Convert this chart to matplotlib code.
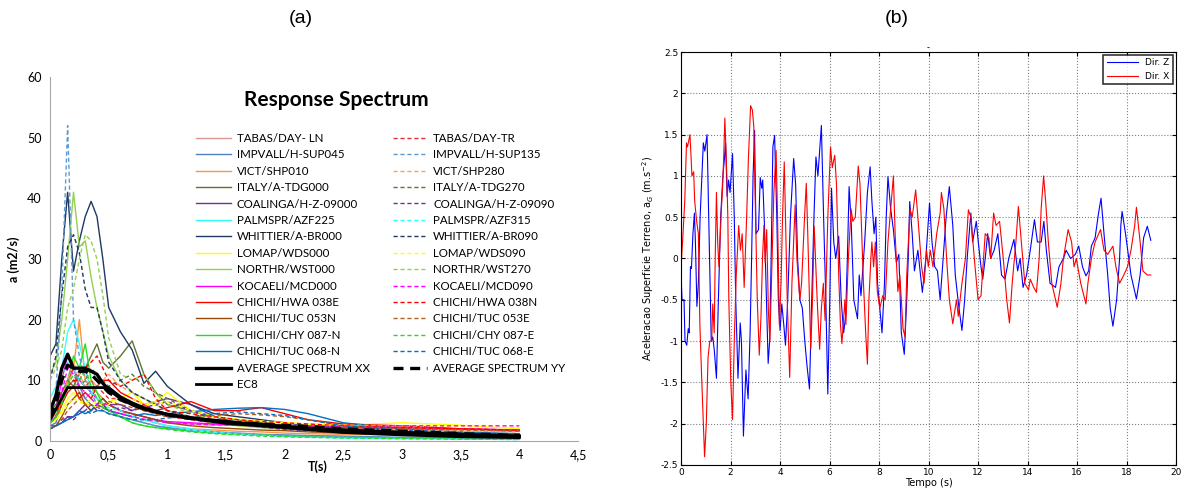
import numpy as np
import matplotlib
matplotlib.use('Agg')
import matplotlib.pyplot as plt

# ---------------- (a) response spectra ----------------
periods = [0, 0.05, 0.1, 0.15, 0.2, 0.25, 0.3, 0.35, 0.4, 0.45, 0.5, 0.6, 0.7,
           0.8, 0.9, 1.0, 1.2, 1.4, 1.6, 1.8, 2.0, 2.2, 2.5, 3.0, 3.5, 4.0]

tabas_ln = [3, 4, 7, 9, 10, 8, 7, 8, 7, 6, 6, 5, 4.5, 4, 3.5, 3, 2.8, 2.6, 2.6, 2.5, 2.4, 2.3, 2.2, 2.5, 2.0, 1.6]
tabas_tr = [3, 5, 8, 10, 12, 10, 9, 10, 9, 8, 7, 7, 6, 5, 4.5, 4, 3.5, 3, 2.8, 2.6, 2.4, 2.3, 2.2, 2.0, 1.9, 1.8]
impvall_045 = [2.5, 3, 6, 10, 12, 9, 7, 6, 5, 5, 4.5, 4, 3.5, 3, 2.5, 2.2, 1.8, 1.5, 1.3, 1.1, 1.0, 0.9, 0.8, 0.6, 0.5, 0.4]
impvall_135 = [2.5, 8, 25, 52, 20, 14, 10, 8, 6, 5, 4.5, 4, 3.5, 3, 2.5, 2.2, 1.8, 1.5, 1.2, 1.0, 0.9, 0.8, 0.7, 0.5, 0.4, 0.35]
vict_010 = [3, 4, 6, 9, 12, 20, 10, 9, 8, 7, 6, 5, 4, 3.5, 3, 2.5, 2, 1.8, 1.6, 1.5, 1.3, 1.2, 1.1, 1.0, 0.9, 0.8]
vict_280 = [3, 4, 7, 10, 13, 11, 9, 10, 9, 10, 11, 9, 8, 7, 6, 5, 4, 3.5, 3, 2.6, 2.4, 2.2, 2.0, 1.8, 1.6, 1.5]
italy_000 = [5, 6, 8, 10, 9, 11, 12, 14, 16, 13, 12, 14, 16.5, 11, 8, 6, 5, 4, 3.5, 3, 2.5, 2.2, 1.8, 1.4, 1.1, 0.9]
italy_270 = [4, 5, 7, 9, 10, 9, 10, 12, 11, 10, 9, 10, 11, 9, 8, 7, 5, 4, 3.5, 3, 2.6, 2.3, 2.0, 1.6, 1.3, 1.1]
coalinga_000 = [2, 2.5, 3, 4, 4, 5, 6, 5, 6, 7, 6, 6, 5, 6, 6.5, 7, 6, 4, 3, 2.5, 2, 1.8, 1.5, 1.2, 1.0, 0.8]
coalinga_090 = [2, 2.5, 3.5, 4, 3.5, 4.5, 5, 6, 5, 6, 5, 5.5, 5, 5.5, 6, 6.5, 5, 3.5, 2.8, 2.3, 1.9, 1.7, 1.4, 1.1, 0.9, 0.7]
palmspr_225 = [7, 9, 12, 18, 20, 16, 12, 8, 7, 6, 5, 4.5, 4, 3.5, 3, 2.5, 2, 1.5, 1.2, 1.0, 0.8, 0.7, 0.5, 0.4, 0.3, 0.25]
palmspr_315 = [5, 7, 10, 13, 12, 10, 9, 8, 7, 6, 5.5, 5, 4, 3.5, 3, 2.5, 1.8, 1.4, 1.1, 0.9, 0.7, 0.6, 0.5, 0.35, 0.3, 0.25]
whittier_000 = [14, 16, 30, 41, 28, 33, 37, 39.5, 37, 30, 22, 18, 15, 9.5, 11.5, 9, 6, 4.5, 4, 3.5, 3, 2.5, 2.2, 1.6, 1.2, 1.0]
whittier_090 = [10, 14, 24, 32, 34, 31, 25, 22, 22, 18, 13, 10, 8, 7, 6, 5, 4, 3.2, 2.8, 2.5, 2.2, 2.0, 1.8, 1.4, 1.1, 0.9]
lomap_000 = [3, 3.5, 5, 7, 8, 7, 6, 7, 6, 6, 6.5, 7, 8, 6, 6.5, 8, 5, 4, 3.5, 3.2, 3, 2.8, 2.6, 3.0, 2.6, 2.0]
lomap_090 = [3, 3.5, 4.5, 6, 7, 6.5, 6, 6, 5.5, 5.5, 6, 6.5, 7, 6, 6, 6.5, 5, 4, 3.6, 3.3, 3.0, 2.8, 2.6, 2.5, 2.4, 2.2]
northr_000 = [11, 13, 20, 30, 41, 32, 33, 27, 22, 18, 14, 10, 8, 7, 6, 5, 4, 3, 2.5, 2.2, 2.0, 1.8, 1.5, 1.2, 1.0, 0.8]
northr_270 = [10, 12, 15, 22, 25, 30, 34, 33, 30, 24, 17, 11, 10, 11, 8, 6, 4.5, 3.5, 3, 2.5, 2.2, 2, 1.7, 1.3, 1.0, 0.8]
kocaeli_000 = [3, 5, 10, 14, 12, 10, 9, 8, 7, 6, 6, 5, 4.5, 4, 3.5, 3.2, 3, 2.8, 2.6, 2.5, 2.4, 2.3, 2.2, 2.2, 2.0, 1.8]
kocaeli_090 = [3, 4, 8, 12, 11, 9, 8, 7, 6, 5.5, 5, 4.5, 4, 3.6, 3.3, 3.0, 2.8, 2.7, 2.6, 2.6, 2.6, 2.5, 2.4, 2.5, 2.5, 2.5]
hwa_038e = [3, 4, 6, 8, 9, 7, 8, 7, 9, 10, 10, 8, 7, 6, 5, 5.5, 6.5, 5, 5, 5.5, 4.5, 3.5, 2.8, 2.5, 2, 1.8]
hwa_038n = [3, 4, 7, 9, 10, 10, 12, 13, 14, 12, 10, 9, 10, 11, 7, 5, 4.5, 4, 3.5, 3.2, 3, 2.8, 2.5, 2.2, 2.0, 1.8]
tuc_053n = [2, 2.5, 4, 6, 7, 8, 6, 5, 6, 7, 6, 5, 4.5, 4, 3.5, 3, 2.5, 2.2, 2, 1.8, 1.7, 1.5, 1.3, 1.1, 1.0, 0.9]
tuc_053e = [2, 2.5, 3.5, 5, 6, 7, 6, 6, 5.5, 6, 6.5, 6, 5.5, 5, 4.5, 4, 4, 4.2, 4.5, 4.3, 4, 3.5, 2.5, 2.0, 1.8, 1.6]
chy_087n = [3, 4, 7, 10, 14, 12, 16, 10, 8, 6, 5, 4, 3, 2.5, 2.2, 2, 1.6, 1.3, 1.1, 1.0, 0.8, 0.7, 0.6, 0.5, 0.4, 0.3]
chy_087e = [3, 4, 6, 9, 11, 10, 12, 9, 7, 5.5, 5, 4, 3, 2.5, 2.2, 1.9, 1.5, 1.2, 1.0, 0.8, 0.7, 0.6, 0.5, 0.4, 0.3, 0.25]
tuc_068n = [2.5, 2.5, 3, 3.5, 4, 5, 4.5, 5, 6, 5.5, 5, 4.5, 4, 4.5, 4.2, 4.5, 4.8, 5.2, 5.4, 5.5, 5.2, 4.5, 3, 2, 1.5, 1.2]
tuc_068e = [2, 2.5, 3, 3.5, 4, 4.5, 5, 4.5, 5, 5, 4.5, 4, 3.5, 3.5, 3.5, 3.8, 4.0, 4.5, 4.8, 4.5, 4.2, 3.5, 2.5, 1.8, 1.4, 1.1]
avg_xx = [5, 7.5, 12, 14.3, 12, 12, 12, 11.5, 11, 9.5, 8.5, 7, 6, 5.3, 4.8, 4.4, 3.8, 3.4, 3.0, 2.7, 2.4, 2.1, 1.8, 1.4, 1.1, 0.8]
avg_yy = [4, 6, 10, 12.5, 12, 11.5, 11.5, 11, 10, 9, 8, 6.8, 6, 5.3, 4.8, 4.3, 3.7, 3.3, 3.0, 2.8, 2.6, 2.4, 2.0, 1.6, 1.2, 0.9]

ec8_t = [0, 0.15, 0.5, 0.6, 0.7, 0.8, 1.0, 1.2, 1.5, 2.0, 2.5, 3.0, 3.5, 4.0]
ec8_a = [3.5, 8.8, 8.8, 7.3, 6.3, 5.5, 4.4, 3.7, 2.9, 2.2, 1.4, 1.0, 0.7, 0.55]

# (label, values, colour) -- left legend column solid, right column dashed
solid_records = [
    ('TABAS/DAY- LN', tabas_ln, '#D99694'),
    ('IMPVALL/H-SUP045', impvall_045, '#4F81BD'),
    ('VICT/SHP010', vict_010, '#F79646'),
    ('ITALY/A-TDG000', italy_000, '#5E7530'),
    ('COALINGA/H-Z-09000', coalinga_000, '#7030A0'),
    ('PALMSPR/AZF225', palmspr_225, '#33FFFF'),
    ('WHITTIER/A-BR000', whittier_000, '#1F3864'),
    ('LOMAP/WDS000', lomap_000, '#FFFF00'),
    ('NORTHR/WST000', northr_000, '#92D050'),
    ('KOCAELI/MCD000', kocaeli_000, '#FF00FF'),
    ('CHICHI/HWA 038E', hwa_038e, '#FF0000'),
    ('CHICHI/TUC 053N', tuc_053n, '#984807'),
    ('CHICHI/CHY 087-N', chy_087n, '#22DD22'),
    ('CHICHI/TUC 068-N', tuc_068n, '#0070C0'),
]
dashed_records = [
    ('TABAS/DAY-TR', tabas_tr, '#E0303A'),
    ('IMPVALL/H-SUP135', impvall_135, '#5B9BD5'),
    ('VICT/SHP280', vict_280, '#FAA060'),
    ('ITALY/A-TDG270', italy_270, '#5E7530'),
    ('COALINGA/H-Z-09090', coalinga_090, '#7030A0'),
    ('PALMSPR/AZF315', palmspr_315, '#33FFFF'),
    ('WHITTIER/A-BR090', whittier_090, '#1F3864'),
    ('LOMAP/WDS090', lomap_090, '#FFFF00'),
    ('NORTHR/WST270', northr_270, '#92D050'),
    ('KOCAELI/MCD090', kocaeli_090, '#FF00FF'),
    ('CHICHI/HWA 038N', hwa_038n, '#FF0000'),
    ('CHICHI/TUC 053E', tuc_053e, '#B0601A'),
    ('CHICHI/CHY 087-E', chy_087e, '#22DD22'),
    ('CHICHI/TUC 068-E', tuc_068e, '#0070C0'),
]

# ---------------- (b) ground acceleration ----------------
tz = [0.00, 0.04, 0.12, 0.16, 0.23, 0.29, 0.33, 0.38, 0.42, 0.48, 0.54, 0.58, 0.64, 0.70, 0.77,
      0.84, 0.90, 0.96, 1.05, 1.11, 1.16, 1.22, 1.28, 1.34, 1.43, 1.50, 1.60, 1.69, 1.75, 1.80,
      1.86, 1.92, 1.98, 2.08, 2.15, 2.21, 2.30, 2.39, 2.44, 2.52, 2.62, 2.71, 2.79, 2.85, 2.91,
      2.97, 3.03, 3.13, 3.20, 3.26, 3.30, 3.37, 3.45, 3.52, 3.58, 3.64, 3.71, 3.78, 3.87, 3.93,
      4.00, 4.07, 4.15, 4.22, 4.31, 4.42, 4.55, 4.63, 4.71, 4.80, 4.90, 5.00, 5.09, 5.19, 5.28,
      5.37, 5.45, 5.53, 5.60, 5.67, 5.76, 5.85, 5.93, 6.01, 6.08, 6.17, 6.25, 6.37, 6.47, 6.57,
      6.65, 6.72, 6.79, 6.88, 6.98, 7.13, 7.20, 7.27, 7.42, 7.53, 7.64, 7.71, 7.80, 7.87, 7.94,
      8.03, 8.12, 8.22, 8.29, 8.36, 8.47, 8.58, 8.70, 8.80, 8.90, 9.02, 9.12, 9.18, 9.24, 9.34,
      9.43, 9.57, 9.75, 9.89, 10.04, 10.14, 10.25, 10.36, 10.47, 10.59, 10.71, 10.84, 10.98, 11.08, 11.23,
      11.35, 11.46, 11.56, 11.64, 11.71, 11.78, 11.93, 12.01, 12.12, 12.19, 12.29, 12.39, 12.51, 12.65, 12.80,
      12.95, 13.09, 13.24, 13.45, 13.60, 13.70, 13.82, 13.96, 14.11, 14.28, 14.40, 14.55, 14.66, 14.76, 14.91,
      15.13, 15.27, 15.45, 15.56, 15.74, 15.93, 16.07, 16.22, 16.36, 16.47, 16.58, 16.73, 16.87, 16.97, 17.09,
      17.24, 17.34, 17.45, 17.60, 17.72, 17.77, 17.82, 17.96, 18.18, 18.40, 18.55, 18.69, 18.84, 18.98]
dir_z = [-0.2, -0.5, -0.5, -1.0, -1.05, -0.85, -0.9, -0.1, -0.12, 0.3, 0.55, 0.2, -0.58, -0.3, 0.5,
         1.0, 1.4, 1.3, 1.5, 0.6, -0.2, -1.0, -0.95, -1.1, -1.45, -0.6, 0.5, 1.0, 1.2, 1.4,
         0.75, 0.95, 0.8, 1.27, 0.5, -0.5, -1.45, -0.78, -1.0, -2.15, -1.35, -1.7, -0.9, 0.0, 1.0,
         1.55, 0.3, 0.35, 0.98, 0.85, 0.95, 0.4, -0.5, -1.27, -1.0, 0.0, 1.35, 1.49, 0.5, -0.5,
         -0.87, -0.55, -0.8, -1.05, -0.5, 0.5, 1.21, 0.9, 0.0, -0.5, -0.6, -1.0, -1.3, -1.58, -0.5,
         0.5, 1.23, 1.0, 1.3, 1.61, 0.5, -0.5, -1.64, -0.5, 0.85, 0.2, 0.0, 0.27, -0.5, -0.9,
         -0.7, 0.0, 0.87, 0.4, -0.5, -0.73, -0.2, -0.45, 0.2, 0.8, 1.11, 0.7, 0.3, 0.5, -0.3,
         -0.6, -0.9, -0.3, 0.5, 0.99, 0.6, 0.35, -0.05, 0.05, -0.9, -1.16, -0.5, 0.0, 0.69, 0.3,
         -0.15, 0.1, -0.41, 0.0, 0.67, 0.2, -0.1, -0.15, -0.5, 0.0, 0.5, 0.87, 0.4, -0.2, -0.6,
         -0.87, -0.5, 0.0, 0.3, 0.55, 0.2, 0.45, 0.2, -0.1, -0.25, 0.0, 0.3, 0.0, 0.1, 0.3,
         -0.2, -0.25, 0.0, 0.23, -0.15, 0.0, -0.35, -0.2, 0.1, 0.47, 0.2, 0.2, 0.45, 0.1, -0.3,
         -0.35, -0.1, 0.0, 0.1, 0.0, 0.05, 0.15, -0.1, -0.21, -0.15, 0.15, 0.25, 0.55, 0.73, 0.3,
         -0.2, -0.6, -0.82, -0.5, 0.0, 0.4, 0.57, 0.3, -0.2, -0.49, -0.2, 0.25, 0.39, 0.22]

tx = [0.00, 0.07, 0.15, 0.22, 0.26, 0.36, 0.44, 0.51, 0.55, 0.63, 0.70, 0.76, 0.84, 0.95, 1.02,
      1.09, 1.16, 1.24, 1.28, 1.34, 1.38, 1.43, 1.48, 1.53, 1.63, 1.67, 1.72, 1.77, 1.85, 1.89,
      1.93, 2.01, 2.08, 2.15, 2.23, 2.33, 2.40, 2.47, 2.55, 2.65, 2.72, 2.81, 2.88, 2.94, 3.01,
      3.08, 3.16, 3.23, 3.29, 3.35, 3.40, 3.46, 3.53, 3.59, 3.68, 3.75, 3.84, 3.90, 3.97, 4.04,
      4.10, 4.17, 4.22, 4.29, 4.39, 4.48, 4.61, 4.68, 4.80, 4.87, 4.99, 5.06, 5.12, 5.24, 5.31,
      5.38, 5.50, 5.60, 5.67, 5.75, 5.82, 5.93, 6.04, 6.11, 6.21, 6.28, 6.37, 6.44, 6.50, 6.62,
      6.66, 6.76, 6.87, 6.94, 7.04, 7.16, 7.23, 7.30, 7.37, 7.46, 7.53, 7.59, 7.67, 7.71, 7.78,
      7.85, 7.93, 8.03, 8.15, 8.25, 8.36, 8.47, 8.58, 8.65, 8.76, 8.84, 8.97, 9.05, 9.12, 9.25,
      9.34, 9.48, 9.57, 9.72, 9.82, 9.92, 9.99, 10.07, 10.18, 10.33, 10.47, 10.52, 10.62, 10.73, 10.84,
      10.98, 11.13, 11.20, 11.35, 11.49, 11.61, 11.71, 11.85, 12.00, 12.12, 12.22, 12.29, 12.44, 12.51, 12.63,
      12.73, 12.87, 13.02, 13.16, 13.27, 13.38, 13.53, 13.63, 13.75, 13.89, 14.04, 14.11, 14.25, 14.36, 14.47,
      14.55, 14.65, 14.73, 14.84, 14.98, 15.20, 15.35, 15.45, 15.64, 15.78, 15.88, 15.97, 16.15, 16.36, 16.44,
      16.58, 16.73, 16.95, 17.09, 17.24, 17.45, 17.57, 17.72, 17.89, 18.04, 18.18, 18.33, 18.40, 18.55, 18.66,
      18.84, 18.98]
dir_x = [-0.1, 0.25, 0.7, 1.4, 1.35, 1.5, 1.0, 1.05, 0.7, 0.45, 0.3, -0.8, -1.5, -2.4, -2.0,
         -1.2, -1.0, -1.0, -0.55, -0.9, 0.0, 0.8, 0.2, -0.1, 0.6, 0.8, 1.2, 1.7, 1.0, 0.5,
         -0.5, -1.5, -1.95, -1.0, -0.2, 0.4, 0.1, 0.3, -0.35, 0.5, 1.2, 1.85, 1.8, 1.6, 0.5,
         -0.5, -1.17, -0.7, 0.0, 0.4, -0.05, 0.35, -0.65, -1.0, 0.0, 0.8, 1.31, 0.5, -0.8, -0.3,
         0.5, 1.17, 0.5, -0.5, -1.44, -0.3, 0.65, 0.0, -0.5, -0.3, 0.5, 0.91, 0.3, -1.1, -0.5,
         0.39, -0.5, -1.1, -0.6, -0.3, -0.75, 0.5, 1.35, 1.1, 1.25, 0.9, -0.2, -0.8, -1.03, -0.5,
         -0.8, 0.0, 0.6, 0.45, 0.5, 1.12, 0.9, 0.3, -0.3, -0.9, -1.28, -0.5, 0.0, 0.2, -0.1,
         0.2, -0.4, -0.6, -0.45, -0.5, 0.2, 0.6, 1.0, 0.3, -0.4, -0.2, -0.85, -0.95, -0.2, 0.6,
         0.5, 0.83, 0.5, -0.1, -0.3, 0.1, -0.1, 0.1, -0.1, 0.3, 0.55, 0.8, 0.6, 0.0, -0.5,
         -0.79, -0.5, -0.7, -0.3, 0.0, 0.59, 0.5, 0.0, -0.5, -0.45, 0.0, 0.3, 0.25, 0.0, 0.55,
         0.4, 0.45, 0.0, -0.5, -0.78, -0.3, 0.2, 0.63, 0.2, -0.3, -0.38, -0.25, -0.35, -0.41, 0.0,
         0.6, 1.0, 0.7, 0.2, -0.3, -0.59, -0.3, 0.0, 0.35, 0.2, -0.1, 0.0, -0.3, -0.55, -0.3,
         0.0, 0.2, 0.35, 0.1, 0.05, 0.15, -0.1, -0.3, -0.2, -0.1, 0.1, 0.4, 0.62, 0.2, -0.15,
         -0.2, -0.2]

dash = (0, (3, 2))

fig = plt.figure(figsize=(11.83, 4.92), dpi=100)

# ---------- panel (a) ----------
axa = fig.add_axes([0.0423, 0.1037, 0.4463, 0.7398])
handles_left, handles_right = [], []
for label, vals, col in solid_records:
    h, = axa.plot(periods, vals, color=col, lw=1.0, label=label)
    handles_left.append(h)
for label, vals, col in dashed_records:
    h, = axa.plot(periods, vals, color=col, lw=1.0, ls=dash, label=label)
    handles_right.append(h)
h_xx, = axa.plot(periods, avg_xx, color='black', lw=2.4, label='AVERAGE SPECTRUM XX')
h_yy, = axa.plot(periods, avg_yy, color='black', lw=2.4, ls=(0, (3, 2)), label='AVERAGE SPECTRUM YY')
h_ec8, = axa.plot(ec8_t, ec8_a, color='black', lw=2.0, label='EC8')
handles_left += [h_xx, h_ec8]
handles_right += [h_yy]

axa.set_xlim(0, 4.5)
axa.set_ylim(0, 60)
axa.set_xticks(np.arange(0, 4.51, 0.5))
axa.set_xticklabels(['0', '0,5', '1', '1,5', '2', '2,5', '3', '3,5', '4', '4,5'])
axa.set_yticks(range(0, 61, 10))
for s in ['top', 'right']:
    axa.spines[s].set_visible(False)
for s in ['left', 'bottom']:
    axa.spines[s].set_color('#A6A6A6')
axa.tick_params(length=0, labelsize=9, pad=6)
for lab in axa.get_xticklabels() + axa.get_yticklabels():
    lab.set_family('Lato')
axa.set_ylabel('a (m2/s)', fontsize=9, fontweight='bold', family='Lato', labelpad=5)
axa.text(2.28, -3.2, 'T(s)', fontsize=9, fontweight='bold', family='Lato',
         ha='center', va='top')
fig.text(0.284, 0.797, 'Response Spectrum', fontsize=15, fontweight='bold',
         family='Lato', ha='center', va='center')

axa.legend(handles_left + handles_right,
           [h.get_label() for h in handles_left + handles_right],
           ncol=2, loc='upper left', bbox_to_anchor=(0.166, 0.73),
           bbox_transform=fig.transFigure, frameon=False,
           prop={'family': 'Lato', 'size': 8.3}, handlelength=3.0,
           handletextpad=0.5, columnspacing=2.0, labelspacing=0.47,
           borderpad=0, borderaxespad=0)

fig.text(0.2545, 0.963, '(a)', fontsize=14, family='Liberation Sans', ha='center', va='center')

# ---------- panel (b) ----------
axb = fig.add_axes([0.5757, 0.0549, 0.4184, 0.8394])
axb.plot(tz, dir_z, color='blue', lw=0.8, label='Dir. Z')
axb.plot(tx, dir_x, color='red', lw=0.8, label='Dir. X')
axb.set_xlim(0, 20)
axb.set_ylim(-2.5, 2.5)
axb.set_xticks(range(0, 21, 2))
axb.set_yticks(np.arange(-2.5, 2.51, 0.5))
axb.set_yticklabels(['-2.5', '-2', '-1.5', '-1', '-0.5', '0', '0.5', '1', '1.5', '2', '2.5'])
axb.grid(True, ls=':', color='#808080', lw=0.8)
axb.tick_params(direction='in', top=True, right=True, labelsize=6.5, length=3, pad=2)
for s in axb.spines.values():
    s.set_linewidth(0.8)
axb.set_xlabel('Tempo (s)', fontsize=7, labelpad=1)
axb.set_ylabel(r'Aceleracao Superficie Terreno, a$_G$ (m.s$^{-2}$)', fontsize=7, labelpad=3)
axb.set_title('-', fontsize=6, pad=1)
lg = axb.legend(loc='upper right', fontsize=6.5, fancybox=False, edgecolor='black',
                borderaxespad=0.3, handlelength=3.5)
lg.get_frame().set_linewidth(1.2)

fig.text(0.758, 0.963, '(b)', fontsize=14, family='Liberation Sans', ha='center', va='center')

fig.savefig('out.png', dpi=100)
